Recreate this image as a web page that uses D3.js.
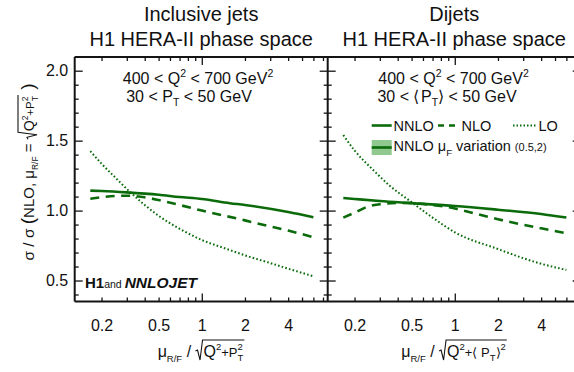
<!DOCTYPE html>
<html>
<head>
<meta charset="utf-8">
<script src="https://cdn.jsdelivr.net/npm/d3@7"></script>
<style>
  body { margin: 0; background: #fff; }
  svg text { font-family: "Liberation Sans", Arial, sans-serif; fill: #111; white-space: pre; }
</style>
</head>
<body>
<div id="chart"></div>
<script>
'use strict';

// ---- values ----
const xLabelTicks = [0.2, 0.5, 1, 2, 4];
const xMinorTicks = [0.2, 0.3, 0.4, 0.5, 0.6, 0.7, 0.8, 0.9, 2, 3, 4, 5, 6, 7];
const xMajorTicks = [1];
const yLabelTicks = [0.5, 1.0, 1.5, 2.0];
const yMinorTicks = [0.4, 0.6, 0.7, 0.8, 0.9, 1.1, 1.2, 1.3, 1.4, 1.6, 1.7, 1.8, 1.9, 2.1];

// inclusive jets
const incNNLO_x = [0.167, 0.2, 0.3, 0.5, 0.7, 1, 1.57, 2, 4, 6];
const incNNLO_y = [1.143, 1.14, 1.13, 1.113, 1.097, 1.083, 1.053, 1.04, 0.99, 0.953];
const incNLO_x = [0.167, 0.2, 0.25, 0.3, 0.4, 0.5, 0.7, 1, 2, 3, 4, 6];
const incNLO_y = [1.084, 1.095, 1.104, 1.106, 1.095, 1.075, 1.04, 1.0, 0.93, 0.886, 0.857, 0.81];
const incLO_x = [0.167, 0.2, 0.25, 0.3, 0.4, 0.5, 0.7, 1, 1.5, 2, 3, 4, 6];
const incLO_y = [1.425, 1.335, 1.235, 1.155, 1.04, 0.963, 0.87, 0.79, 0.725, 0.68, 0.625, 0.585, 0.53];

// dijets
const diNNLO_x = [0.167, 0.2, 0.3, 0.5, 1, 2, 4, 6];
const diNNLO_y = [1.09, 1.083, 1.068, 1.053, 1.033, 1.006, 0.976, 0.95];
const diNLO_x = [0.167, 0.2, 0.25, 0.3, 0.4, 0.5, 0.7, 1, 1.2, 2, 4, 6];
const diNLO_y = [0.95, 0.985, 1.03, 1.045, 1.054, 1.053, 1.04, 1.015, 0.995, 0.938, 0.873, 0.838];
const diLO_x = [0.167, 0.2, 0.27, 0.35, 0.5, 0.7, 1, 2, 3, 4, 6];
const diLO_y = [1.54, 1.43, 1.29, 1.18, 1.06, 0.95, 0.845, 0.725, 0.66, 0.62, 0.576];

const green = '#0b6b0b', ink = '#141414';
const W = 574, H = 372;
const plotTop = 57, plotBottom = 301.5, panelW = 253;

let svg = d3.select('#chart').append('svg')
  .attr('width', W).attr('height', H).attr('viewBox', `0 0 ${W} ${H}`);

let y = d3.scaleLinear().domain([0.35, 2.098]).range([plotBottom, plotTop]);

// sequential text pieces (sub/superscripts, radicals, gaps)
function richText(parent, x, yy, parts, anchor) {
  let g = parent.append('g');
  let cx = 0, stackW = 0, radStart = 0;
  let rads = [];
  for (let p of parts) {
    if (p.gap) { cx += p.gap; continue; }
    if (p.rad === 'open') { radStart = cx; cx += 8; continue; }
    if (p.rad === 'close') { rads.push([radStart, cx + 1, p.h]); cx += 1; continue; }
    let t = g.append('text').attr('x', cx).attr('y', p.dy || 0)
      .attr('font-size', p.fs).text(p.t);
    if (p.bold) t.attr('font-weight', 'bold');
    if (p.italic) t.attr('font-style', 'italic');
    let w = t.node().getComputedTextLength();
    if (p.stack) { stackW = Math.max(stackW, w); continue; }
    cx += Math.max(w, stackW);
    stackW = 0;
  }
  for (let [a, b, h] of rads) {
    g.append('path')
      .attr('d', `M${a},-6 L${a + 2},-7 L${a + 4.5},3 L${a + 7},${-h} L${b},${-h}`)
      .attr('fill', 'none').attr('stroke', ink).attr('stroke-width', 1.1);
  }
  let off = anchor === 'middle' ? -cx / 2 : anchor === 'end' ? -cx : 0;
  g.attr('transform', `translate(${x + off},${yy})`);
  return g;
}

const panels = [
  {
    x0: 74.7, titles: ['Inclusive jets', 'H1 HERA-II phase space'],
    nnlo: [incNNLO_x, incNNLO_y], nlo: [incNLO_x, incNLO_y], lo: [incLO_x, incLO_y],
    yLabels: true
  },
  {
    x0: 327.7, titles: ['Dijets', 'H1 HERA-II phase space'],
    nnlo: [diNNLO_x, diNNLO_y], nlo: [diNLO_x, diNLO_y], lo: [diLO_x, diLO_y],
    yLabels: false
  }
];

for (let p of panels) {
  let x = d3.scaleLog().domain([0.13, 7.55]).range([p.x0, p.x0 + panelW]);
  let g = svg.append('g');
  let clipId = `clip${p.x0 | 0}`;
  svg.append('clipPath').attr('id', clipId).append('rect')
    .attr('x', p.x0).attr('y', plotTop).attr('width', panelW).attr('height', plotBottom - plotTop);

  // curves
  let line = d3.line().curve(d3.curveMonotoneX)
    .x(d => x(d[0])).y(d => y(d[1]));
  let curves = g.append('g').attr('clip-path', `url(#${clipId})`);
  let zipped = s => s[0].map((v, i) => [v, s[1][i]]);
  curves.append('path').datum(zipped(p.lo)).attr('d', line)
    .attr('fill', 'none').attr('stroke', green).attr('stroke-width', 2)
    .attr('stroke-dasharray', '1.6,2.2');
  curves.append('path').datum(zipped(p.nlo)).attr('d', line)
    .attr('fill', 'none').attr('stroke', green).attr('stroke-width', 2.6)
    .attr('stroke-dasharray', '9,6.5');
  curves.append('path').datum(zipped(p.nnlo)).attr('d', line)
    .attr('fill', 'none').attr('stroke', green).attr('stroke-width', 2.6);

  // axes (ticks inward)
  let axStyle = sel => { sel.select('.domain').remove(); sel.selectAll('line').attr('stroke', ink).attr('stroke-width', 1.3); };
  g.append('g').attr('transform', `translate(0,${plotBottom})`)
    .call(d3.axisBottom(x).tickValues(xMinorTicks).tickSizeInner(-4).tickSizeOuter(0).tickFormat(''))
    .call(axStyle);
  g.append('g').attr('transform', `translate(0,${plotBottom})`)
    .call(d3.axisBottom(x).tickValues(xMajorTicks).tickSizeInner(-8).tickSizeOuter(0).tickFormat(''))
    .call(axStyle);
  g.append('g').attr('transform', `translate(0,${plotTop})`)
    .call(d3.axisTop(x).tickValues(xMinorTicks).tickSizeInner(-4).tickSizeOuter(0).tickFormat(''))
    .call(axStyle);
  g.append('g').attr('transform', `translate(0,${plotTop})`)
    .call(d3.axisTop(x).tickValues(xMajorTicks).tickSizeInner(-8).tickSizeOuter(0).tickFormat(''))
    .call(axStyle);
  let xl = g.append('g').attr('transform', `translate(0,${plotBottom})`)
    .call(d3.axisBottom(x).tickValues(xLabelTicks).tickSize(0).tickPadding(18).tickFormat(d3.format('')))
    .call(axStyle);
  xl.selectAll('text').attr('font-size', 16).attr('font-family', null);

  for (let [xx, dir] of [[p.x0, 1], [p.x0 + panelW, -1]]) {
    g.append('g').attr('transform', `translate(${xx},0)`)
      .call((dir > 0 ? d3.axisLeft(y) : d3.axisRight(y)).tickValues(yMinorTicks).tickSizeInner(-4).tickSizeOuter(0).tickFormat(''))
      .call(axStyle);
    g.append('g').attr('transform', `translate(${xx},0)`)
      .call((dir > 0 ? d3.axisLeft(y) : d3.axisRight(y)).tickValues(yLabelTicks).tickSizeInner(-8).tickSizeOuter(0).tickFormat(''))
      .call(axStyle);
  }
  if (p.yLabels) {
    let yl = g.append('g').attr('transform', `translate(${p.x0},0)`)
      .call(d3.axisLeft(y).tickValues(yLabelTicks).tickSize(0).tickPadding(6.5).tickFormat(d3.format('.1f')))
      .call(axStyle);
    yl.selectAll('text').attr('font-size', 16).attr('font-family', null);
  }

  // titles
  let cx = p.x0 + panelW / 2;
  g.append('text').attr('x', cx).attr('y', 21).attr('text-anchor', 'middle')
    .attr('font-size', 20).text(p.titles[0]);
  g.append('text').attr('x', cx).attr('y', 45.5).attr('text-anchor', 'middle')
    .attr('font-size', 20).text(p.titles[1]);
}

// frame
svg.append('g').selectAll('line')
  .data([[74.7, plotTop, 590, plotTop], [74.7, plotBottom, 590, plotBottom], [74.7, plotTop, 74.7, plotBottom], [327.7, plotTop, 327.7, plotBottom]])
  .join('line')
  .attr('x1', d => d[0]).attr('y1', d => d[1]).attr('x2', d => d[2]).attr('y2', d => d[3])
  .attr('stroke', ink).attr('stroke-width', 2);

// kinematic ranges
const fsA = 16;
const w = (t) => ({ t: t, fs: fsA });
const sup = (t) => ({ t: t, fs: 10.5, dy: -7 });
const sub = (t) => ({ t: t, fs: 10.5, dy: 4.5 });
const q2Line = [w('400 < Q'), sup('2'), w(' < 700 GeV'), sup('2')];
richText(svg, 198, 84, q2Line, 'middle');
richText(svg, 189, 101.7, [w('30 < P'), sub('T'), w(' < 50 GeV')], 'middle');
richText(svg, 453.5, 84, q2Line, 'middle');
richText(svg, 447, 101.7, [w('30 < \u27E8'), { gap: 1.5 }, w('P'), sub('T'), w('\u27E9 < 50 GeV')], 'middle');

// legend
let leg = svg.append('g');
leg.append('line').attr('x1', 371.7).attr('x2', 391.7).attr('y1', 125.5).attr('y2', 125.5)
  .attr('stroke', green).attr('stroke-width', 2.6);
leg.append('text').attr('x', 393.5).attr('y', 130.8).attr('font-size', 14.5).text('NNLO');
leg.append('line').attr('x1', 438).attr('x2', 458).attr('y1', 125.5).attr('y2', 125.5)
  .attr('stroke', green).attr('stroke-width', 2.6).attr('stroke-dasharray', '6,5');
leg.append('text').attr('x', 461.5).attr('y', 130.8).attr('font-size', 14.5).text('NLO');
leg.append('line').attr('x1', 513).attr('x2', 536).attr('y1', 125.5).attr('y2', 125.5)
  .attr('stroke', green).attr('stroke-width', 1.8).attr('stroke-dasharray', '1.5,2');
leg.append('text').attr('x', 538.5).attr('y', 130.8).attr('font-size', 14.5).text('LO');
leg.append('rect').attr('x', 371.7).attr('y', 140).attr('width', 20).attr('height', 15)
  .attr('fill', '#8fc98f');
leg.append('line').attr('x1', 371.7).attr('x2', 391.7).attr('y1', 147.5).attr('y2', 147.5)
  .attr('stroke', green).attr('stroke-width', 2.6);
richText(leg, 393.5, 151, [{ t: 'NNLO \u03BC', fs: 14.5 }, { t: 'F', fs: 9.5, dy: 5 },
  { t: ' variation ', fs: 14.5 }, { t: '(0.5,2)', fs: 11 }], 'start');

// H1 and NNLOJET
richText(svg, 85, 288, [{ t: 'H1', fs: 15, bold: true }, { t: 'and ', fs: 10.5 },
  { t: 'NNLOJET', fs: 15.5, bold: true, italic: true }], 'start');

// axis titles
richText(svg, 201, 357, [{ t: '\u03BC', fs: 16 }, { t: 'R/F', fs: 9.5, dy: 5 }, { t: ' / ', fs: 16 },
  { rad: 'open' }, { t: 'Q', fs: 16 }, { t: '2', fs: 9.5, dy: -7 }, { t: '+P', fs: 13 },
  { t: '2', fs: 9.5, dy: -7, stack: true }, { t: 'T', fs: 9.5, dy: 4 }, { rad: 'close', h: 17 }], 'middle');
richText(svg, 454, 357, [{ t: '\u03BC', fs: 16 }, { t: 'R/F', fs: 9.5, dy: 5 }, { t: ' / ', fs: 16 },
  { rad: 'open' }, { t: 'Q', fs: 16 }, { t: '2', fs: 9.5, dy: -7 }, { t: '+\u27E8 P', fs: 13 },
  { t: 'T', fs: 9.5, dy: 4 }, { t: '\u27E9', fs: 13 }, { t: '2', fs: 9.5, dy: -7 }, { rad: 'close', h: 17 }], 'middle');

let yt = svg.append('g').attr('transform', 'translate(34,172) rotate(-90)');
richText(yt, 0, 0, [{ t: '\u03C3 / \u03C3 ', fs: 15.5 }, { t: '(', fs: 19 }, { t: 'NLO, \u03BC', fs: 15 },
  { t: 'R/F', fs: 8.5, dy: 4 }, { t: ' = ', fs: 15 }, { rad: 'open' }, { t: 'Q', fs: 14 },
  { t: '2', fs: 8.5, dy: -6.5 }, { t: '+P', fs: 11.5 }, { t: '2', fs: 8.5, dy: -6.5, stack: true },
  { t: 'T', fs: 8.5, dy: 3.5 }, { rad: 'close', h: 16 }, { t: ' )', fs: 19 }], 'middle');
</script>
</body>
</html>
